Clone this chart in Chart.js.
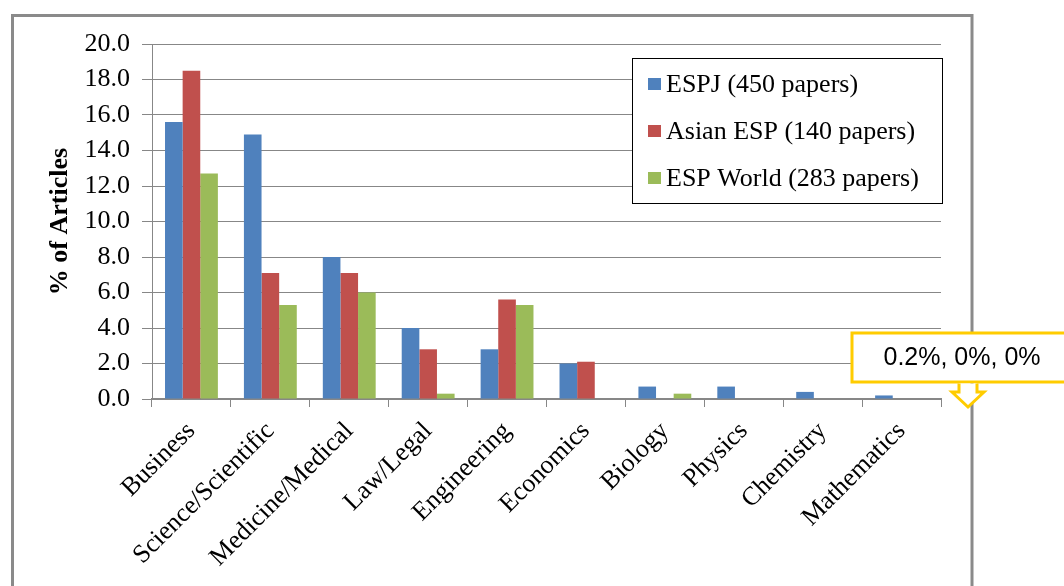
<!DOCTYPE html>
<html>
<head>
<meta charset="utf-8">
<script src="https://cdn.jsdelivr.net/npm/chart.js@4"></script>
<style>
  html, body { margin: 0; padding: 0; background: #ffffff; }
  #wrap { width: 1064px; height: 586px; }
</style>
</head>
<body>
<div id="wrap"><canvas id="chart" width="1064" height="586"></canvas></div>
<script>
const categories = ['Business', 'Science/Scientific', 'Medicine/Medical', 'Law/Legal', 'Engineering',
    'Economics', 'Biology', 'Physics', 'Chemistry', 'Mathematics'];
const seriesNames = ['ESPJ (450 papers)', 'Asian ESP (140 papers)', 'ESP World (283 papers)'];
const espj = [15.6, 14.9, 8.0, 4.0, 2.8, 2.0, 0.7, 0.7, 0.4, 0.2];
const asianEsp = [18.5, 7.1, 7.1, 2.8, 5.6, 2.1, 0, 0, 0, 0];
const espWorld = [12.7, 5.3, 6.0, 0.3, 5.3, 0, 0.3, 0, 0, 0];
const colors = ['#4F81BD', '#C0504D', '#9BBB59'];

const serif = "'Liberation Serif', 'Times New Roman', serif";
const gridGray = '#878787';

// grey frame round the whole chart (bottom edge runs off the picture)
const framePlugin = {
    id: 'frame',
    beforeDraw(chart) {
        const ctx = chart.ctx;
        ctx.save();
        ctx.strokeStyle = '#8a8a8a';
        ctx.lineWidth = 3;
        ctx.strokeRect(12.5, 15.5, 959.5, 620);
        ctx.restore();
    }
};

// boxed legend inside the plot, top right
const legendBoxPlugin = {
    id: 'legendBox',
    afterDraw(chart) {
        const ctx = chart.ctx;
        ctx.save();
        ctx.fillStyle = '#ffffff';
        ctx.fillRect(632, 58, 310, 145);
        ctx.strokeStyle = '#000000';
        ctx.lineWidth = 1;
        ctx.strokeRect(632.5, 58.5, 310, 145);
        ctx.font = '26px ' + serif;
        ctx.textBaseline = 'middle';
        chart.data.datasets.forEach((ds, i) => {
            const cy = 84 + i * 47;
            ctx.fillStyle = ds.backgroundColor;
            ctx.fillRect(648, cy - 6, 13, 12);
            ctx.fillStyle = '#000000';
            ctx.fillText(ds.label, 666, cy + 1);
        });
        ctx.restore();
    }
};

// yellow callout with down arrow pointing at the Mathematics bars
const calloutPlugin = {
    id: 'callout',
    afterDraw(chart) {
        const ctx = chart.ctx;
        const area = chart.chartArea;
        const last = categories.length - 1;
        const text = espj[last] + '%, ' + asianEsp[last] + '%, ' + espWorld[last] + '%';
        const tipX = area.right + 27;
        const tipY = area.bottom + 8;
        const boxTop = tipY - 74, boxBottom = tipY - 25;
        ctx.save();
        ctx.strokeStyle = '#FFCC00';
        ctx.lineWidth = 3;
        ctx.fillStyle = '#ffffff';
        ctx.fillRect(tipX - 116, boxTop, 230, boxBottom - boxTop);
        ctx.strokeRect(tipX - 116, boxTop, 230, boxBottom - boxTop);
        ctx.beginPath();
        ctx.moveTo(tipX - 9, boxBottom + 1.5);
        ctx.lineTo(tipX - 9, tipY - 15);
        ctx.lineTo(tipX - 16, tipY - 15);
        ctx.lineTo(tipX, tipY);
        ctx.lineTo(tipX + 16, tipY - 15);
        ctx.lineTo(tipX + 9, tipY - 15);
        ctx.lineTo(tipX + 9, boxBottom + 1.5);
        ctx.fill();
        ctx.stroke();
        ctx.fillStyle = '#000000';
        ctx.font = "25px 'Liberation Sans', Arial, sans-serif";
        ctx.textAlign = 'center';
        ctx.textBaseline = 'middle';
        ctx.fillText(text, tipX - 6, (boxTop + boxBottom) / 2 + 1);
        ctx.restore();
    }
};

new Chart(document.getElementById('chart').getContext('2d'), {
    type: 'bar',
    data: {
        labels: categories,
        datasets: [
            { label: seriesNames[0], data: espj, backgroundColor: colors[0] },
            { label: seriesNames[1], data: asianEsp, backgroundColor: colors[1] },
            { label: seriesNames[2], data: espWorld, backgroundColor: colors[2] }
        ]
    },
    options: {
        responsive: false,
        animation: false,
        events: [],
        datasets: {
            bar: { categoryPercentage: 0.67, barPercentage: 1.0 }
        },
        layout: { padding: { left: 0, top: 44, right: 123, bottom: 0 } },
        plugins: {
            legend: { display: false },
            tooltip: { enabled: false }
        },
        scales: {
            x: {
                offset: true,
                grid: { display: true, drawOnChartArea: false, offset: true, tickLength: 8, color: gridGray, lineWidth: 1 },
                border: { color: gridGray, width: 2 },
                ticks: {
                    autoSkip: false,
                    maxRotation: 45,
                    minRotation: 45,
                    padding: 9,
                    color: '#000000',
                    font: { family: serif, size: 26 }
                },
                afterFit(scale) { scale.height = 187; }
            },
            y: {
                min: 0,
                max: 20,
                grid: { color: gridGray, lineWidth: 1, tickLength: 10 },
                border: { color: gridGray, width: 1 },
                ticks: {
                    stepSize: 2,
                    padding: 12,
                    color: '#000000',
                    font: { family: serif, size: 26 },
                    callback: (v) => v.toFixed(1)
                },
                title: {
                    display: true,
                    text: '% of Articles',
                    color: '#000000',
                    font: { family: serif, size: 26, weight: 'bold' },
                    padding: { top: 45, bottom: 0 }
                },
                afterFit(scale) { scale.width = 152; }
            }
        }
    },
    plugins: [framePlugin, legendBoxPlugin, calloutPlugin]
});
</script>
</body>
</html>
